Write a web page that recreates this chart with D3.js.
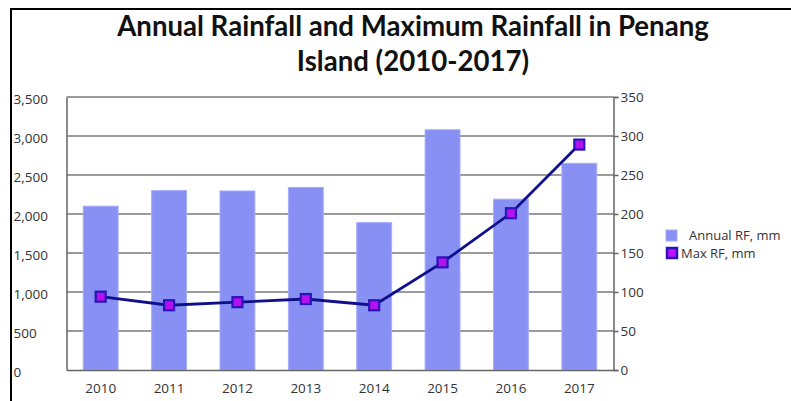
<!DOCTYPE html>
<html><head><meta charset="utf-8">
<script src="https://cdn.jsdelivr.net/npm/d3@7"></script>
<style>body{margin:0;background:#fff;overflow:hidden}svg{display:block}</style>
</head><body>
<script>
const years = ["2010","2011","2012","2013","2014","2015","2016","2017"];
const annualRF = [2100, 2300, 2295, 2340, 1890, 3080, 2190, 2650];
const maxRF = [94, 83, 87, 91, 83, 138, 201, 289];
const leftTicks = [0, 500, 1000, 1500, 2000, 2500, 3000, 3500];
const rightTicks = [0, 50, 100, 150, 200, 250, 300, 350];
const titleLines = ["Annual Rainfall and Maximum Rainfall in Penang", "Island (2010-2017)"];
const legendLabels = ["Annual RF, mm", "Max RF, mm"];

const W = 791, H = 401;
const svg = d3.select("body").append("svg").attr("width", W).attr("height", H);
const FONT = "'Open Sans', sans-serif";

// border
svg.append("line").attr("x1", 11).attr("x2", 11).attr("y1", 9).attr("y2", H).attr("stroke", "#000").attr("stroke-width", 2);
svg.append("line").attr("x1", 10).attr("x2", W).attr("y1", 9).attr("y2", 9).attr("stroke", "#000").attr("stroke-width", 2);

const plot = {left: 66.5, right: 613.5, top: 97, bottom: 370};
const x = d3.scaleBand().domain(years).range([plot.left, plot.right]).paddingInner(0.49).paddingOuter(0.245);
const yL = d3.scaleLinear().domain([0, 3500]).range([plot.bottom, plot.top]);
const yR = d3.scaleLinear().domain([0, 350]).range([plot.bottom, plot.top]);

// title
const title = svg.append("g").selectAll("text").data(titleLines).join("text")
  .attr("x", 413).attr("y", (d, i) => 36 + i * 35)
  .attr("text-anchor", "middle")
  .attr("font-family", "Lato, sans-serif").attr("font-weight", "bold")
  .attr("font-size", 24).attr("fill", "#111").text(d => d);
const w0 = title.node().getComputedTextLength();
title.attr("font-size", 24 * 592 / w0);

// gridlines
svg.append("g").selectAll("line").data(leftTicks.slice(1)).join("line")
  .attr("x1", plot.left).attr("x2", plot.right)
  .attr("y1", d => yL(d)).attr("y2", d => yL(d))
  .attr("stroke", "#7a7a7a").attr("stroke-width", 1.5);

// bars
svg.append("g").selectAll("rect").data(years).join("rect")
  .attr("x", d => x(d)).attr("width", x.bandwidth())
  .attr("y", (d, i) => yL(annualRF[i])).attr("height", (d, i) => yL(0) - yL(annualRF[i]))
  .attr("fill", "#8890f3").attr("stroke", "#a5acfa").attr("stroke-width", 1);

// axes
const axL = svg.append("g").attr("transform", `translate(${plot.left},0)`)
  .call(d3.axisLeft(yL).tickValues(leftTicks).tickSize(0).tickFormat(d3.format(",")));
axL.select(".domain").attr("stroke", "#666").attr("stroke-width", 1.5);
axL.selectAll("text").attr("text-anchor", "start").attr("x", 13.5 - plot.left).attr("dy", "0.45em")
  .attr("font-family", FONT).attr("font-size", 13.5).attr("fill", "#333");

const axR = svg.append("g").attr("transform", `translate(${plot.right},0)`)
  .call(d3.axisRight(yR).tickValues(rightTicks).tickSize(5).tickPadding(2));
axR.select(".domain").attr("stroke", "#666").attr("stroke-width", 1.5);
axR.selectAll(".tick line").attr("stroke", "#666").attr("stroke-width", 1.5);
axR.selectAll("text").attr("font-family", FONT).attr("font-size", 13.5).attr("fill", "#333");

const axB = svg.append("g").attr("transform", `translate(0,${plot.bottom})`)
  .call(d3.axisBottom(x).tickSize(0).tickPadding(13));
axB.select(".domain").attr("stroke", "#666").attr("stroke-width", 1.5);
axB.selectAll("text").attr("font-family", FONT).attr("font-size", 13.5).attr("fill", "#333");

// line
const cx = d => x(d) + x.bandwidth() / 2;
const line = d3.line().x((d, i) => cx(years[i])).y(d => yR(d));
svg.append("path").datum(maxRF).attr("d", line)
  .attr("fill", "none").attr("stroke", "#10108c").attr("stroke-width", 2.8);
svg.append("g").selectAll("rect").data(maxRF).join("rect")
  .attr("x", (d, i) => cx(years[i]) - 5).attr("y", d => yR(d) - 5)
  .attr("width", 10).attr("height", 10)
  .attr("fill", "#b510f0").attr("stroke", "#2a16b8").attr("stroke-width", 2.2);

// legend
const lg = svg.append("g");
lg.append("rect").attr("x", 666).attr("y", 230).attr("width", 11).attr("height", 11)
  .attr("fill", "#8890f3").attr("stroke", "#a5acfa");
lg.append("rect").attr("x", 667).attr("y", 248).attr("width", 10).attr("height", 10)
  .attr("fill", "#c010ff").attr("stroke", "#2a16b8").attr("stroke-width", 2.5);
lg.selectAll("text").data(legendLabels).join("text")
  .attr("x", (d, i) => i === 0 ? 689 : 681).attr("y", (d, i) => 240 + i * 18)
  .attr("font-family", FONT).attr("font-size", 13).attr("fill", "#333").text(d => d);
</script>
</body></html>
